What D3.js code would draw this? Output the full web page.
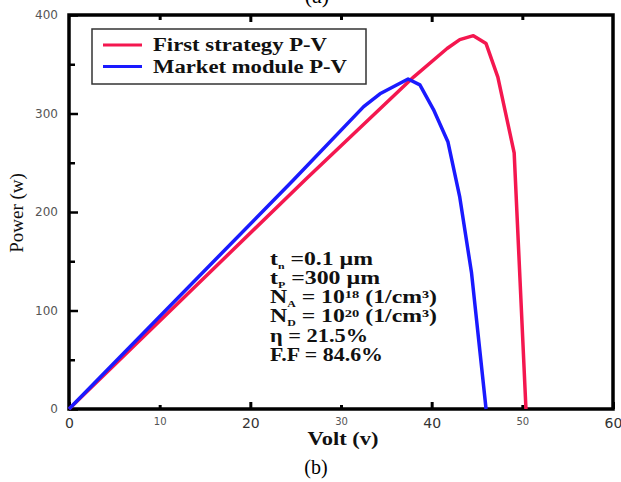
<!DOCTYPE html>
<html>
<head>
<meta charset="utf-8">
<script src="https://cdn.jsdelivr.net/npm/d3@7"></script>
<style>
  body { margin: 0; background: #fff; }
  svg { display: block; }
</style>
</head>
<body>
<div id="chart"></div>
<script>
// data
var strategy_volt  = [0, 26.2, 38, 41.7, 43.1, 44.6, 46.0, 47.3, 49.1, 50.4];
var strategy_power = [0, 234, 337, 366, 375, 379, 371, 337, 260, 0];
var market_volt  = [0, 24.7, 32.5, 34.3, 37.4, 38.7, 40.2, 41.8, 43.1, 44.4, 46.0];
var market_power = [0, 232, 307, 320, 335, 329, 304, 271, 215, 138, 0];
var x_ticks = [0, 10, 20, 30, 40, 50, 60];
var y_ticks = [0, 100, 200, 300, 400];
var y_minor = [50, 150, 250, 350];
var series_names = ['First strategy P-V', 'Market module P-V'];
var series_colors = ['#f4174f', '#1a1aff'];

var W = 621, H = 482;
var svg = d3.select('#chart').append('svg')
  .attr('width', W)
  .attr('height', H);

var x = d3.scaleLinear().domain([0, 60]).range([69, 613]);
var y = d3.scaleLinear().domain([0, 400]).range([409, 15]);

// (a) caption, cut off at the top like in the source figure
svg.append('text')
  .attr('x', 317).attr('y', 3)
  .attr('text-anchor', 'middle')
  .attr('font-family', 'Liberation Serif')
  .attr('font-size', 22)
  .text('(a)');

// bottom axis
var xAxis = svg.append('g')
  .attr('transform', 'translate(0,' + y(0) + ')')
  .call(d3.axisBottom(x).tickValues(x_ticks).tickSize(-6).tickPadding(9).tickFormat(d3.format('d')));
xAxis.select('.domain').remove();
xAxis.selectAll('.tick line')
  .attr('stroke', '#000')
  .attr('stroke-width', 3)
  .attr('y2', function(d){ return (d % 20 == 0) ? -7 : -4; });
xAxis.selectAll('.tick text')
  .attr('font-family', 'DejaVu Sans')
  .attr('font-size', function(d){ return (d % 20 == 0) ? 14 : 10; })
  .attr('fill', function(d){ return (d % 20 == 0) ? '#333' : '#555'; });

// top ticks
var xTop = svg.append('g')
  .attr('transform', 'translate(0,' + y(400) + ')')
  .call(d3.axisTop(x).tickValues([10, 20, 30, 40, 50]).tickSize(-6).tickFormat(''));
xTop.select('.domain').remove();
xTop.selectAll('.tick line')
  .attr('stroke', '#000')
  .attr('stroke-width', 3)
  .attr('y2', function(d){ return (d % 20 == 0) ? 7 : 5; });

// left axis
var yAxis = svg.append('g')
  .attr('transform', 'translate(' + x(0) + ',0)')
  .call(d3.axisLeft(y).tickValues(y_ticks).tickSize(-9).tickPadding(11));
yAxis.select('.domain').remove();
yAxis.selectAll('.tick line').attr('stroke', '#000').attr('stroke-width', 2.5);
yAxis.selectAll('.tick text')
  .attr('font-family', 'DejaVu Sans')
  .attr('font-size', 12)
  .attr('fill', '#555');

var yMinor = svg.append('g')
  .attr('transform', 'translate(' + x(0) + ',0)')
  .call(d3.axisLeft(y).tickValues(y_minor).tickSize(-6).tickFormat(''));
yMinor.select('.domain').remove();
yMinor.selectAll('.tick line').attr('stroke', '#000').attr('stroke-width', 2.5);

// frame
svg.append('rect')
  .attr('x', x(0)).attr('y', y(400))
  .attr('width', x(60) - x(0))
  .attr('height', y(0) - y(400))
  .attr('fill', 'none')
  .attr('stroke', '#000')
  .attr('stroke-width', 3.5);

// curves
var line = d3.line()
  .x(function(d){ return x(d[0]); })
  .y(function(d){ return y(d[1]); });

var strategy = d3.zip(strategy_volt, strategy_power);
var market = d3.zip(market_volt, market_power);

svg.append('path')
  .datum(strategy)
  .attr('d', line)
  .attr('fill', 'none')
  .attr('stroke', series_colors[0])
  .attr('stroke-width', 3.5)
  .attr('stroke-linejoin', 'round');

svg.append('path')
  .datum(market)
  .attr('d', line)
  .attr('fill', 'none')
  .attr('stroke', series_colors[1])
  .attr('stroke-width', 3.5)
  .attr('stroke-linejoin', 'round');

// legend
svg.append('rect')
  .attr('x', 92).attr('y', 29)
  .attr('width', 274).attr('height', 55)
  .attr('fill', '#fff')
  .attr('stroke', '#333')
  .attr('stroke-width', 1.5);

var legend_len = [174, 194];
series_names.forEach(function(name, i){
  var ly = 45 + i * 21.5;
  svg.append('line')
    .attr('x1', 103).attr('x2', 142)
    .attr('y1', ly).attr('y2', ly)
    .attr('stroke', series_colors[i])
    .attr('stroke-width', 3);
  svg.append('text')
    .attr('x', 153).attr('y', ly + 6)
    .attr('font-family', 'Liberation Serif')
    .attr('font-weight', 'bold')
    .attr('font-size', 18)
    .attr('fill', '#111')
    .attr('textLength', legend_len[i])
    .attr('lengthAdjust', 'spacingAndGlyphs')
    .text(name);
});

// parameters text, one <text> per line so each can be stretched like the source
var nx = 270;
var ny0 = 264.5, ndy = 19.3;
function note(row, len){
  return svg.append('text')
    .attr('x', nx).attr('y', ny0 + row * ndy)
    .attr('font-family', 'Liberation Serif')
    .attr('font-weight', 'bold')
    .attr('font-size', 18)
    .attr('fill', '#111')
    .attr('textLength', len)
    .attr('lengthAdjust', 'spacingAndGlyphs');
}

var n1 = note(0, 103);
n1.append('tspan').text('t');
n1.append('tspan').attr('font-size', 9).attr('dy', 4).text('n');
n1.append('tspan').attr('dy', -4).text(' =0.1 \u00b5m');

var n2 = note(1, 110);
n2.append('tspan').text('t');
n2.append('tspan').attr('font-size', 9).attr('dy', 4).text('P');
n2.append('tspan').attr('dy', -4).text(' =300 \u00b5m');

var n3 = note(2, 167);
n3.append('tspan').text('N');
n3.append('tspan').attr('font-size', 9).attr('dy', 4).text('A');
n3.append('tspan').attr('dy', -4).text(' = 10');
n3.append('tspan').attr('font-size', 11).attr('dy', -5).text('18');
n3.append('tspan').attr('dy', 5).text(' (1/cm\u00b3)');

var n4 = note(3, 167);
n4.append('tspan').text('N');
n4.append('tspan').attr('font-size', 9).attr('dy', 4).text('D');
n4.append('tspan').attr('dy', -4).text(' = 10');
n4.append('tspan').attr('font-size', 11).attr('dy', -5).text('20');
n4.append('tspan').attr('dy', 5).text(' (1/cm\u00b3)');

note(4, 98).text('\u03b7 = 21.5%');
note(5, 113).text('F.F = 84.6%');

// axis titles
svg.append('text')
  .attr('transform', 'translate(23,213) rotate(-90)')
  .attr('text-anchor', 'middle')
  .attr('font-family', 'Liberation Serif')
  .attr('font-size', 19)
  .attr('fill', '#111')
  .text('Power (w)');

svg.append('text')
  .attr('x', 343).attr('y', 445)
  .attr('text-anchor', 'middle')
  .attr('font-family', 'Liberation Serif')
  .attr('font-weight', 'bold')
  .attr('font-size', 18)
  .attr('fill', '#111')
  .attr('textLength', 71)
  .attr('lengthAdjust', 'spacingAndGlyphs')
  .text('Volt (v)');

svg.append('text')
  .attr('x', 316).attr('y', 474)
  .attr('text-anchor', 'middle')
  .attr('font-family', 'Liberation Serif')
  .attr('font-size', 20)
  .attr('fill', '#000')
  .text('(b)');
</script>
</body>
</html>
